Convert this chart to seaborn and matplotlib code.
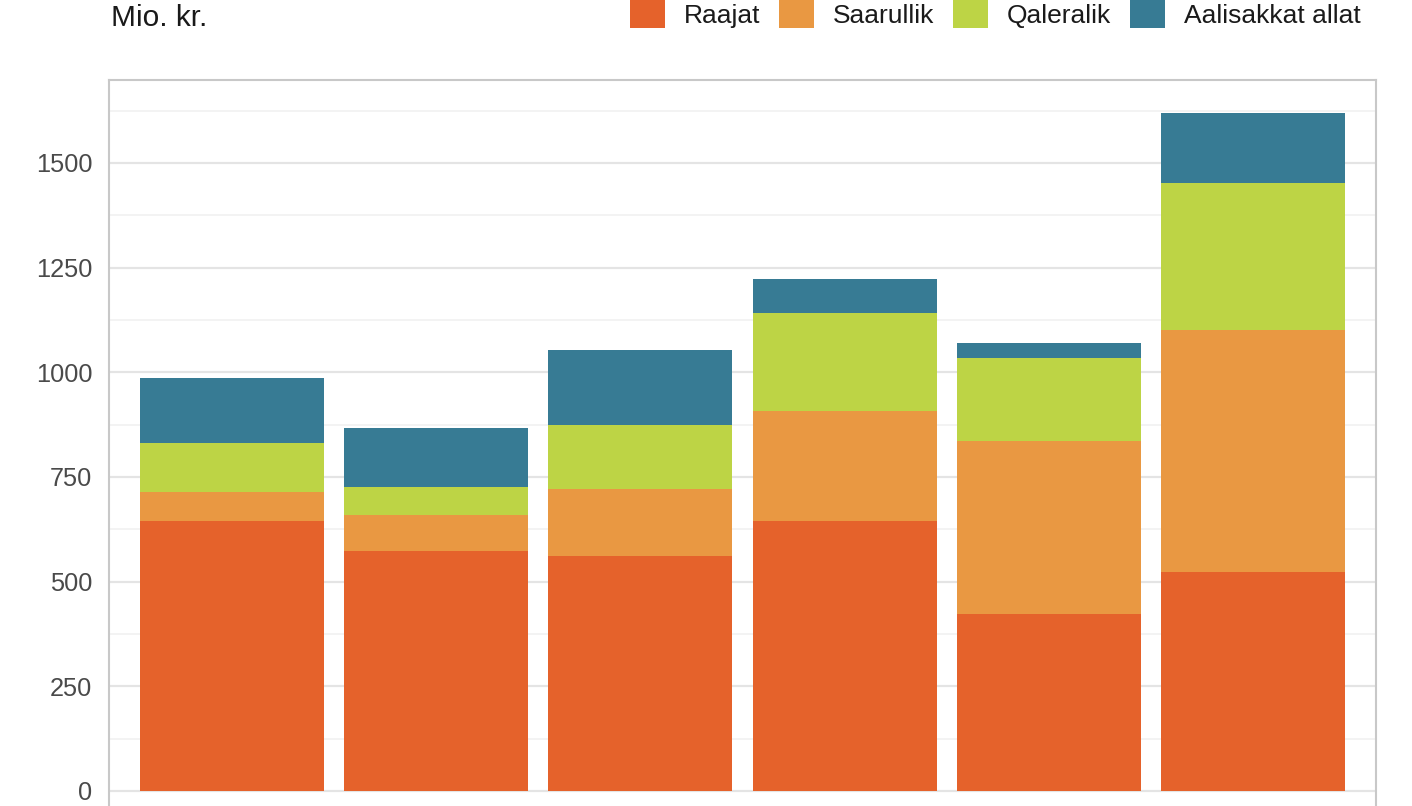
import numpy as np
import pandas as pd
import seaborn as sns
import matplotlib.pyplot as plt
from matplotlib.patches import Patch
from matplotlib.ticker import MultipleLocator

# data
years = ['2014', '2015', '2016', '2017', '2018', '2019']
raajat = [645, 573, 561, 645, 423, 523]
saarullik = [69, 86, 160, 263, 413, 578]
qaleralik = [117, 67, 153, 234, 198, 351]
aalisakkat = [155, 141, 179, 81, 36, 167]

series_names = ['Raajat', 'Saarullik', 'Qaleralik', 'Aalisakkat allat']
colors = ['#E5622B', '#E99842', '#BDD445', '#377B94']

df = pd.DataFrame({'year': years, 'Raajat': raajat, 'Saarullik': saarullik,
                   'Qaleralik': qaleralik, 'Aalisakkat allat': aalisakkat})
cum = df[series_names].cumsum(axis=1)
cum['year'] = df['year']

sns.set_style('white')
plt.rcParams['font.family'] = ['Liberation Sans', 'DejaVu Sans']

fig = plt.figure(figsize=(14.12, 8.06), dpi=100)
ax = fig.add_axes([0.0772, 0.0, 0.8973, 0.9007])

# stacked bars: draw cumulative totals from the top series down
for name, col in reversed(list(zip(series_names, colors))):
    sns.barplot(data=cum, x='year', y=name, color=col, width=0.9,
                saturation=1, edgecolor='none', ax=ax, zorder=3)

ax.set_xlim(-0.6, 5.6)
ax.set_ylim(-36, 1698)
ax.yaxis.set_major_locator(MultipleLocator(250))
ax.yaxis.set_minor_locator(MultipleLocator(125))
ax.set_yticks([0, 250, 500, 750, 1000, 1250, 1500])
ax.grid(which='major', axis='y', color='#E4E4E4', lw=1.6, zorder=0)
ax.grid(which='minor', axis='y', color='#F1F1F1', lw=1.2, zorder=0)
ax.set_axisbelow(True)
ax.set_xlabel('')
ax.set_ylabel('')
ax.set_xticks([])
ax.tick_params(axis='y', which='both', length=0, pad=12, labelsize=18.3, labelcolor='#4A4A4A')

for s in ['left', 'right', 'top']:
    ax.spines[s].set_color('#C8C8C8')
    ax.spines[s].set_linewidth(1.5)
ax.spines['bottom'].set_visible(False)

fig.text(111 / 1412, 1 - 18 / 806, 'Mio. kr.', fontsize=21.5, color='#1A1A1A',
         ha='left', va='center')

handles = [Patch(facecolor=c, edgecolor='none') for c in colors]
fig.legend(handles, series_names, loc='center right', ncol=4,
           bbox_to_anchor=(1374 / 1412, 1 - 14 / 806), frameon=False,
           fontsize=19, handlelength=1.33, handleheight=1.3,
           handletextpad=0.72, columnspacing=0.7, borderpad=0,
           labelcolor='#1A1A1A')

fig.savefig('out.png', dpi=100)
